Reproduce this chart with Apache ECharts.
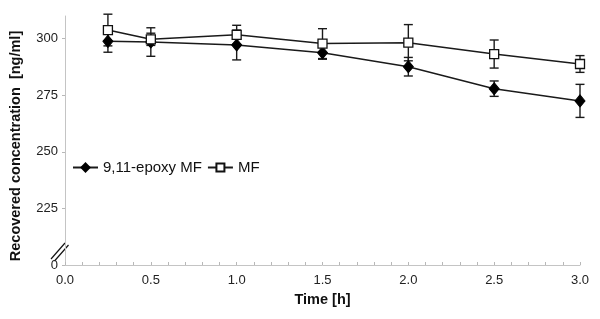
<!DOCTYPE html>
<html>
<head>
<meta charset="utf-8">
<script src="https://cdn.jsdelivr.net/npm/echarts@6/dist/echarts.min.js"></script>
<style>
  html, body { margin: 0; padding: 0; background: #fff; }
  #chart { width: 600px; height: 319px; }
</style>
</head>
<body>
<div id="chart"></div>
<script>
// time points [h]
var times = [0.25, 0.5, 1.0, 1.5, 2.0, 2.5, 3.0];
// 9,11-epoxy MF, mean and error
var epoxyMean = [298.8, 298.5, 297.2, 293.8, 287.6, 277.9, 272.5];
var epoxyErr = [4.8, 6.3, 6.6, 2.9, 4.1, 3.4, 7.3];
// MF, mean and error
var mfMean = [303.8, 299.7, 301.7, 297.8, 298.2, 293.2, 288.8];
var mfErr = [7.0, 2.7, 4.2, 6.6, 8.0, 6.2, 3.7];
// y tick values (200 is drawn as "0", axis is broken)
var yTicks = [200, 225, 250, 275, 300];

function points(mean) {
    var out = [];
    for (var i = 0; i < times.length; ++i) out.push([times[i], mean[i]]);
    return out;
}

function bars(mean, err) {
    var out = [];
    for (var i = 0; i < times.length; ++i) out.push([times[i], mean[i] - err[i], mean[i] + err[i]]);
    return out;
}

function renderErr(params, api) {
    var x = api.value(0);
    var lo = api.coord([x, api.value(1)]);
    var hi = api.coord([x, api.value(2)]);
    var w = 4.5;
    var st = {stroke: '#1a1a1a', lineWidth: 1.4};
    return {
        type: 'group',
        children: [
            {type: 'line', shape: {x1: hi[0], y1: hi[1], x2: lo[0], y2: lo[1]}, style: st},
            {type: 'line', shape: {x1: hi[0] - w, y1: hi[1], x2: hi[0] + w, y2: hi[1]}, style: st},
            {type: 'line', shape: {x1: lo[0] - w, y1: lo[1], x2: lo[0] + w, y2: lo[1]}, style: st}
        ]
    };
}

var font = 'Liberation Sans, Arial, sans-serif';
var chart = echarts.init(document.getElementById('chart'));
chart.setOption({
    animation: false,
    textStyle: {fontFamily: font},
    grid: {left: 60, right: 20, top: 16, bottom: 54},
    legend: {
        left: 72,
        top: 160,
        padding: 0,
        itemGap: 5,
        itemWidth: 25,
        itemHeight: 10,
        data: ['9,11-epoxy MF', 'MF'],
        textStyle: {fontSize: 15, color: '#111', fontFamily: font}
    },
    xAxis: {
        type: 'value',
        min: 0,
        max: 3,
        interval: 0.5,
        name: 'Time [h]',
        nameLocation: 'middle',
        nameGap: 27,
        nameTextStyle: {fontSize: 14.5, fontWeight: 'bold', color: '#111', fontFamily: font},
        axisLine: {lineStyle: {color: '#c4c4c4', width: 1}},
        axisTick: {show: true, inside: true, length: 3, lineStyle: {color: '#b8b8b8'}},
        minorTick: {show: true, splitNumber: 5, length: 3, lineStyle: {color: '#b8b8b8'}},
        splitLine: {show: false},
        axisLabel: {
            fontSize: 13,
            color: '#222',
            margin: 9,
            formatter: function (v) { return v.toFixed(1); }
        }
    },
    yAxis: {
        type: 'value',
        min: 200,
        max: 310,
        interval: 25,
        name: 'Recovered concentration  [ng/ml]',
        nameLocation: 'middle',
        nameGap: 42,
        nameTextStyle: {fontSize: 14.5, fontWeight: 'bold', color: '#111', fontFamily: font, padding: [0, 11, 0, 0]},
        axisLine: {show: true, lineStyle: {color: '#c4c4c4', width: 1}},
        axisTick: {show: true, length: 3, customValues: yTicks, lineStyle: {color: '#b8b8b8'}},
        splitLine: {show: false},
        axisLabel: {
            fontSize: 13,
            color: '#222',
            margin: 7,
            customValues: yTicks,
            formatter: function (v) { return v == 200 ? '0' : String(v); }
        }
    },
    graphic: [{
        type: 'group',
        children: [
            {type: 'line', shape: {x1: 51, y1: 259, x2: 65, y2: 243}, style: {stroke: '#111', lineWidth: 1.2}},
            {type: 'line', shape: {x1: 54.5, y1: 261, x2: 68.5, y2: 245}, style: {stroke: '#111', lineWidth: 1.2}}
        ]
    }],
    series: [{
        type: 'custom',
        name: 'epoxyErr',
        renderItem: renderErr,
        z: 1,
        data: bars(epoxyMean, epoxyErr)
    }, {
        type: 'custom',
        name: 'mfErr',
        renderItem: renderErr,
        z: 1,
        data: bars(mfMean, mfErr)
    }, {
        type: 'line',
        name: '9,11-epoxy MF',
        z: 3,
        symbol: 'diamond',
        symbolSize: [10, 12],
        lineStyle: {color: '#1a1a1a', width: 1.5},
        itemStyle: {color: '#000', borderColor: '#000', borderWidth: 1},
        data: points(epoxyMean)
    }, {
        type: 'line',
        name: 'MF',
        z: 4,
        symbol: 'rect',
        symbolSize: 9,
        lineStyle: {color: '#1a1a1a', width: 1.5},
        itemStyle: {color: '#fff', borderColor: '#111', borderWidth: 1.3},
        data: points(mfMean)
    }]
});
</script>
</body>
</html>
